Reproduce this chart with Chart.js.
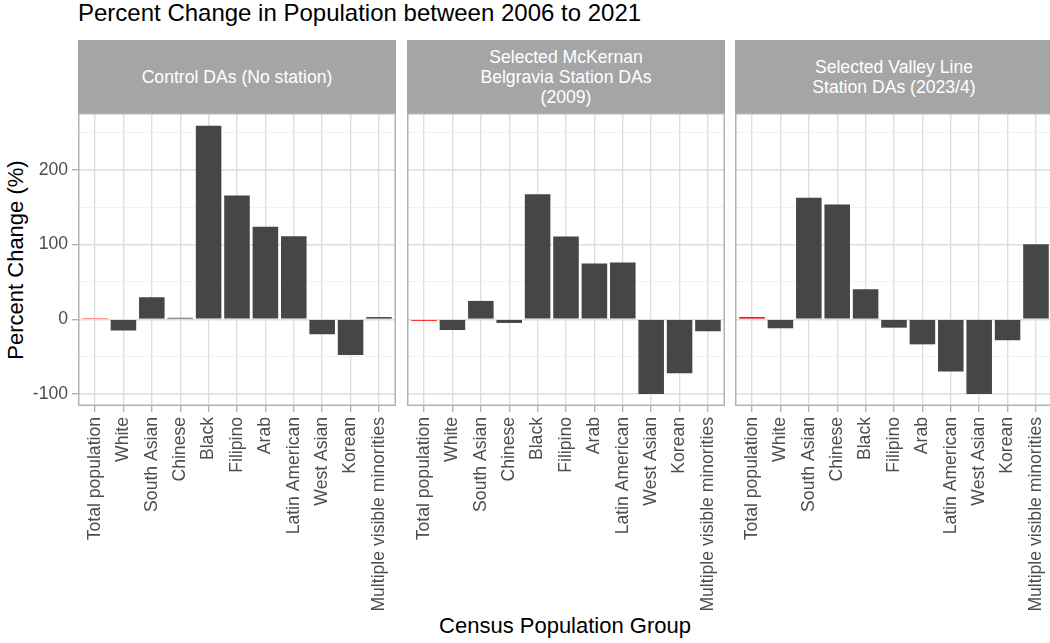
<!DOCTYPE html>
<html>
<head>
<meta charset="utf-8">
<script src="https://cdn.jsdelivr.net/npm/chart.js@4.4.1/dist/chart.umd.min.js"></script>
<style>
  html, body { margin: 0; padding: 0; background: #ffffff; overflow: hidden; }
  body { width: 1050px; height: 643px; position: relative; font-family: "Liberation Sans", Arial, sans-serif; }
  canvas { position: absolute; }
  .title { position: absolute; left: 78px; top: 1px; font-size: 24px; line-height: 24px; color: #000; white-space: nowrap; }
  .strip { position: absolute; top: 40px; height: 73px; background: #a5a5a5; color: #ffffff;
           font-size: 17.6px; line-height: 20px; display: flex; align-items: center; justify-content: center; text-align: center; }
  .ytitle { position: absolute; left: 16px; top: 260px; transform: translate(-50%, -50%) rotate(-90deg);
            font-size: 22px; color: #000; white-space: nowrap; }
  .xtitle { position: absolute; left: 565px; top: 626px; transform: translate(-50%, -50%);
            font-size: 22px; color: #000; white-space: nowrap; }
</style>
</head>
<body>
<div class="title">Percent Change in Population between 2006 to 2021</div>
<div class="ytitle">Percent Change (%)</div>
<div class="xtitle">Census Population Group</div>
<script>
// Census population groups along the x axis
const groups = ['Total population', 'White', 'South Asian', 'Chinese', 'Black', 'Filipino',
                'Arab', 'Latin American', 'West Asian', 'Korean', 'Multiple visible minorities'];

// Percent change 2006 -> 2021 for each facet
const controlValues  = [0.4, -15, 29.5, 2, 259, 165.6, 123.7, 111, -20, -47.8, 3];
const mckernanValues = [-2, -14.3, 24.6, -4.9, 167.4, 110.7, 74.6, 75.9, -100, -72.3, -16];
const valleyValues   = [3, -12, 162.5, 153.6, 40.2, -11.2, -33.5, -70, -100, -28, 100.4];

// Facet strip labels (one entry per line)
const panelTitles = [
  ['Control DAs (No station)'],
  ['Selected McKernan', 'Belgravia Station DAs', '(2009)'],
  ['Selected Valley Line', 'Station DAs (2023/4)']
];

// y-axis gridline positions; labelled every 100
const yTicks = [-100, -50, 0, 50, 100, 150, 200, 250];
const yMin = -116, yMax = 276;

Chart.defaults.font.family = '"Liberation Sans", Arial, sans-serif';
Chart.defaults.animation = false;

const TOP = 113, PLOT_H = 293, CANVAS_H = 643 - TOP;
const panels = [
  { left: 0,   width: 396, axisW: 78, values: controlValues },
  { left: 407, width: 318, axisW: 0,  values: mckernanValues },
  { left: 735, width: 318, axisW: 0,  values: valleyValues }
];

// draws the grey frame round each panel
const panelFrame = {
  id: 'panelFrame',
  afterDraw(chart) {
    const a = chart.chartArea, ctx = chart.ctx;
    ctx.save();
    ctx.strokeStyle = '#b3b3b3';
    ctx.lineWidth = 1.5;
    ctx.strokeRect(a.left + 0.75, a.top + 0.75, a.right - a.left - 1.5, a.bottom - a.top - 1.5);
    ctx.restore();
  }
};

function noPadding(axis) {
  axis.paddingTop = 0; axis.paddingBottom = 0;
  axis.paddingLeft = 0; axis.paddingRight = 0;
}

panels.forEach((p, k) => {
  const plotLeft = p.left + p.axisW;
  const strip = document.createElement('div');
  strip.className = 'strip';
  strip.style.left = plotLeft + 'px';
  strip.style.width = (p.width - p.axisW) + 'px';
  strip.innerHTML = panelTitles[k].join('<br>');
  document.body.appendChild(strip);

  const cv = document.createElement('canvas');
  cv.width = p.width;
  cv.height = CANVAS_H;
  cv.style.left = p.left + 'px';
  cv.style.top = TOP + 'px';
  document.body.appendChild(cv);

  const showY = k === 0;
  new Chart(cv, {
    type: 'bar',
    data: {
      datasets: [{
        data: p.values.map((v, i) => ({ x: i, y: v })),
        backgroundColor: p.values.map((v, i) => i === 0 ? '#ff0000' : '#464646'),
        borderWidth: 0,
        barPercentage: 0.9,
        categoryPercentage: 1.0
      }]
    },
    options: {
      responsive: false,
      animation: false,
      layout: { padding: 0 },
      plugins: { legend: { display: false }, tooltip: { enabled: false }, title: { display: false } },
      scales: {
        x: {
          type: 'linear',
          min: -0.6,
          max: groups.length - 0.4,
          offset: false,
          afterBuildTicks: axis => { axis.ticks = groups.map((g, i) => ({ value: i })); },
          afterFit: axis => { axis.height = CANVAS_H - PLOT_H; noPadding(axis); },
          border: { display: false },
          grid: { offset: false, color: '#dedede', lineWidth: 1.4, tickColor: '#b3b3b3', tickLength: 6, tickWidth: 1.4 },
          ticks: {
            autoSkip: false,
            maxRotation: 90,
            minRotation: 90,
            padding: 5,
            color: '#4d4d4d',
            font: { size: 17.6 },
            callback: v => groups[v] ?? ''
          }
        },
        y: {
          min: yMin,
          max: yMax,
          afterBuildTicks: axis => { axis.ticks = yTicks.map(v => ({ value: v })); },
          afterFit: axis => { axis.width = p.axisW; noPadding(axis); },
          border: { display: false },
          grid: {
            color: c => (c.tick && c.tick.value % 100 === 0) ? '#dedede' : '#efefef',
            lineWidth: c => (c.tick && c.tick.value % 100 === 0) ? 1.4 : 0.8,
            tickColor: c => (c.tick && c.tick.value % 100 === 0) ? '#b3b3b3' : 'rgba(0,0,0,0)',
            tickLength: showY ? 6 : 0,
            tickWidth: 1.4,
            drawTicks: showY
          },
          ticks: {
            display: showY,
            padding: 4,
            color: '#4d4d4d',
            font: { size: 17.6 },
            callback: v => (v % 100 === 0 ? String(v) : '')
          }
        }
      }
    },
    plugins: [panelFrame]
  });
});
</script>
</body>
</html>
